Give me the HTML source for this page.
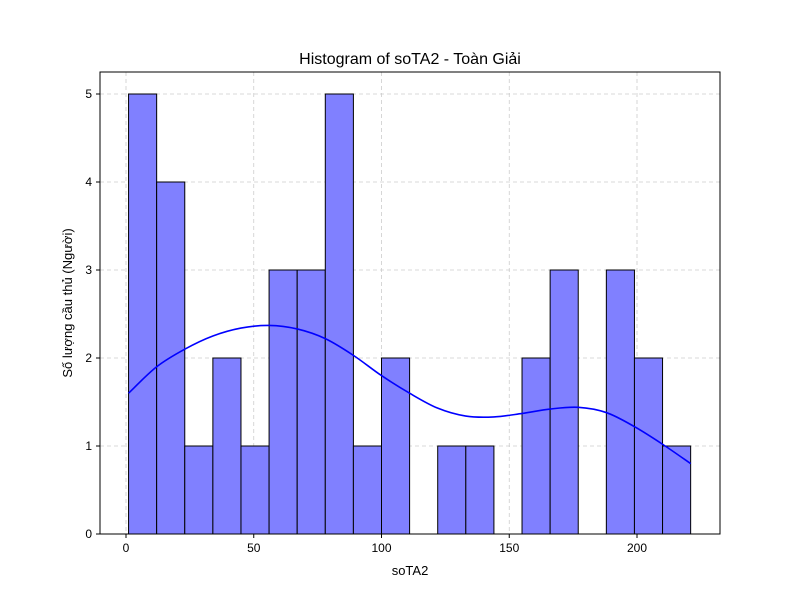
<!DOCTYPE html>
<html><head><meta charset="utf-8"><style>
body{margin:0;background:#fff}
svg text{font-family:"Liberation Sans","DejaVu Sans",sans-serif;fill:#000}
</style></head><body>
<svg id="chart" width="800" height="600">
<rect width="800" height="600" fill="#fff"/>
<text x="410" y="64" font-size="16" text-anchor="middle">Histogram of soTA2 - Toàn Giải</text>
<text x="410" y="575" font-size="13" text-anchor="middle">soTA2</text>
<text transform="translate(72,303) rotate(-90)" font-size="13" text-anchor="middle">Số lượng cầu thủ (Người)</text>
<g id="grid"></g><g id="bars"></g><g id="kde"></g><g id="axes"></g>
</svg>
<script>
const binStart = 1;
const binWidth = 11.0;
const counts = [5,4,1,2,1,3,3,5,1,2,0,1,1,0,2,3,0,3,2,1];
const kdeX = [1,12,23,34,45,56,67,78,89,100,111,122,133,144,155,166,177,188,199,210,221];
const kdeY = [1.6,1.9,2.1,2.25,2.34,2.37,2.33,2.22,2.03,1.8,1.6,1.43,1.34,1.33,1.37,1.42,1.44,1.38,1.22,1.02,0.8];
const xTicks = [0,50,100,150,200];
const yTicks = [0,1,2,3,4,5];
const L=100,R=720,T=72,B=534;
const sx=v=>126+v*2.555, sy=v=>534-v*88;
const NS="http://www.w3.org/2000/svg";
function mk(tag,attrs,parent){const e=document.createElementNS(NS,tag);for(const k in attrs)e.setAttribute(k,attrs[k]);parent.appendChild(e);return e;}
const grid=document.getElementById('grid'),bars=document.getElementById('bars'),kde=document.getElementById('kde'),axes=document.getElementById('axes');
xTicks.forEach(t=>{
 const g=mk('line',{x1:sx(t),x2:sx(t),y1:T,y2:B,stroke:'#ccc','stroke-dasharray':'4,3','stroke-width':0.8},grid);
 
 
 const tk=mk('line',{x1:sx(t),x2:sx(t),y1:B,y2:B+4,stroke:'#000'},axes);
 
 
 const lb=mk('text',{x:sx(t),y:B+18,'font-size':12,'text-anchor':'middle'},axes);lb.textContent=t;
 
 
});
yTicks.forEach(t=>{
 const g=mk('line',{x1:L,x2:R,y1:sy(t),y2:sy(t),stroke:'#ccc','stroke-dasharray':'4,3','stroke-width':0.8},grid);
 
 
 const tk=mk('line',{x1:L-4,x2:L,y1:sy(t),y2:sy(t),stroke:'#000'},axes);
 
 
 const lb=mk('text',{x:L-8,y:sy(t)+4,'font-size':12,'text-anchor':'end'},axes);lb.textContent=t;
 
 
});
counts.forEach((c,i)=>{
 if(!c)return;
 const x0=sx(binStart+i*binWidth),x1=sx(binStart+(i+1)*binWidth);
 const r=mk('rect',{x:x0,y:sy(c),width:x1-x0,height:sy(0)-sy(c),fill:'#8080ff',stroke:'#000','stroke-width':1},bars);
 
 
});
// smooth curve via catmull-rom
let d='M'+sx(kdeX[0])+','+sy(kdeY[0]);
for(let i=0;i<kdeX.length-1;i++){
 const p0=[sx(kdeX[Math.max(i-1,0)]),sy(kdeY[Math.max(i-1,0)])],p1=[sx(kdeX[i]),sy(kdeY[i])],p2=[sx(kdeX[i+1]),sy(kdeY[i+1])],p3=[sx(kdeX[Math.min(i+2,kdeX.length-1)]),sy(kdeY[Math.min(i+2,kdeX.length-1)])];
 d+=' C'+(p1[0]+(p2[0]-p0[0])/6)+','+(p1[1]+(p2[1]-p0[1])/6)+' '+(p2[0]-(p3[0]-p1[0])/6)+','+(p2[1]-(p3[1]-p1[1])/6)+' '+p2[0]+','+p2[1];
}
const k=mk('path',{d:d,fill:'none',stroke:'#0000ff','stroke-width':1.6},kde);


const f=mk('rect',{x:L,y:T,width:R-L,height:B-T,fill:'none',stroke:'#000','stroke-width':1},axes);


</script>
</body></html>
